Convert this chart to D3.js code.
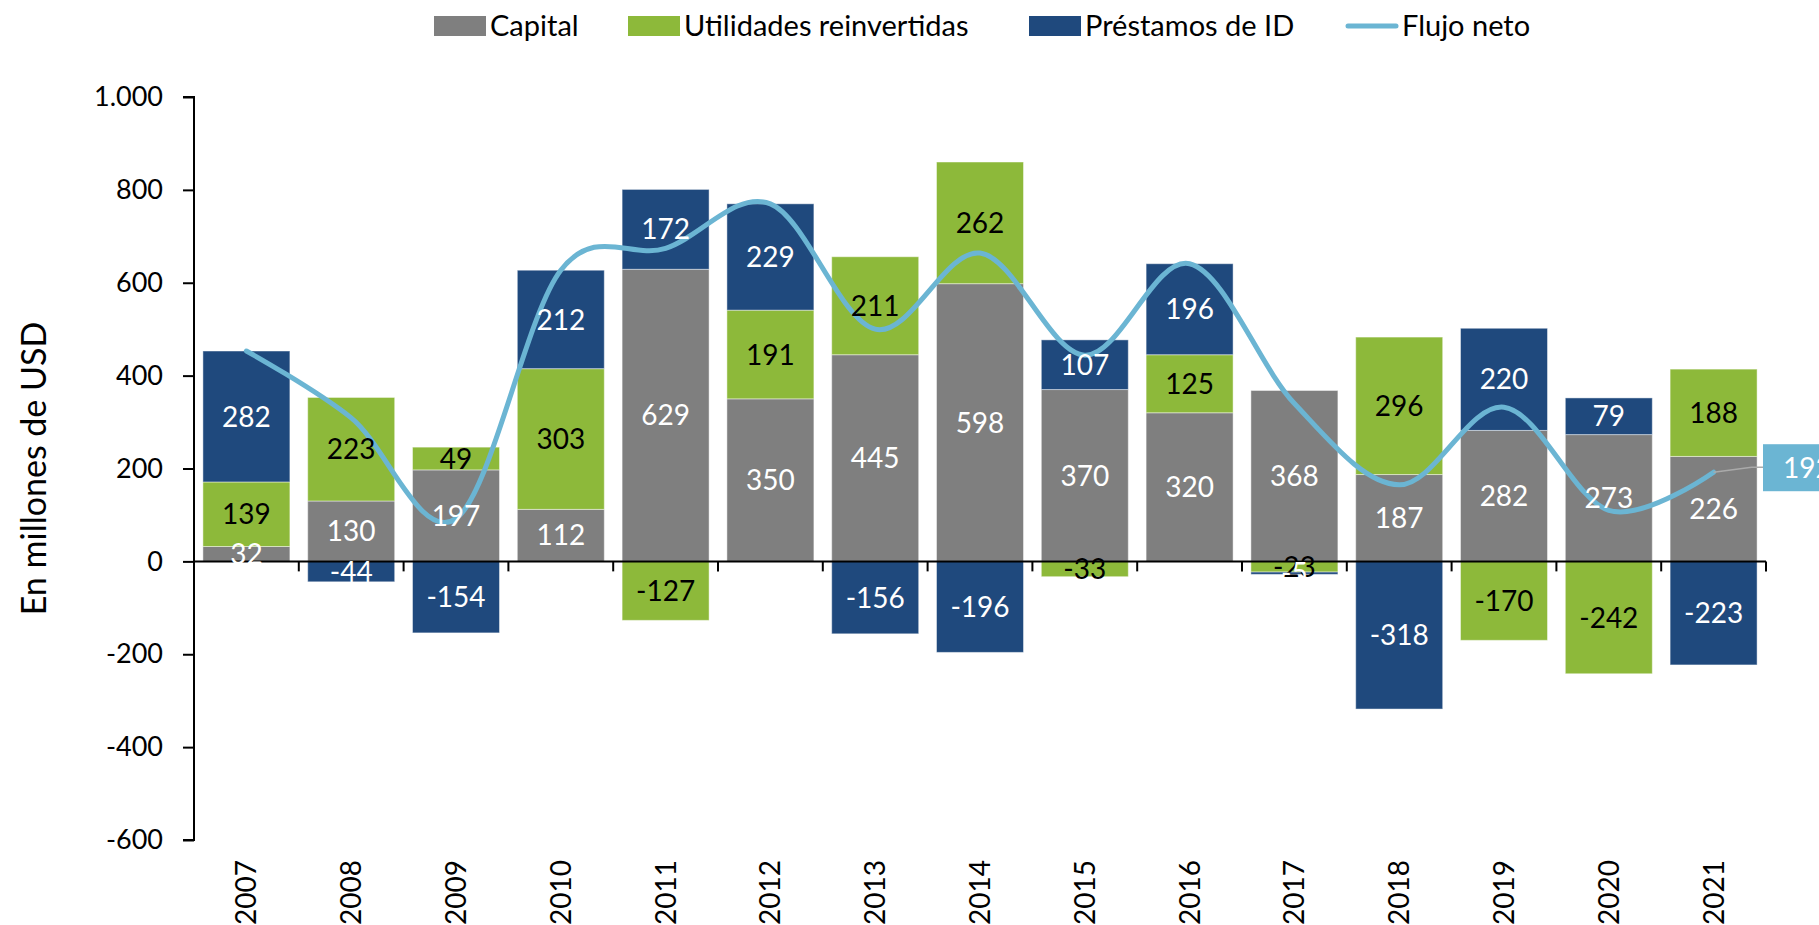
<!DOCTYPE html>
<html>
<head>
<meta charset="utf-8">
<script src="https://cdn.jsdelivr.net/npm/d3@7"></script>
<style>
  body { margin: 0; background: #fff; }
  svg { display: block; font-family: Lato, 'Open Sans', sans-serif; }
</style>
</head>
<body>
<svg id="chart" width="1819" height="925"></svg>
<script>
const years = ['2007','2008','2009','2010','2011','2012','2013','2014','2015','2016','2017','2018','2019','2020','2021'];
const capital = [32, 130, 197, 112, 629, 350, 445, 598, 370, 320, 368, 187, 282, 273, 226];
const utilidades = [139, 223, 49, 303, -127, 191, 211, 262, -33, 125, -23, 296, -170, -242, 188];
const prestamos = [282, -44, -154, 212, 172, 229, -156, -196, 107, 196, -5, -318, 220, 79, -223];
const flujoNeto = [453, 309, 92, 627, 674, 770, 500, 664, 444, 641, 340, 165, 332, 110, 192];
const yTicks = [-600, -400, -200, 0, 200, 400, 600, 800, 1000];

const series = [
  {key: 'capital', name: 'Capital', values: capital, color: '#7f7f7f', text: '#fff'},
  {key: 'utilidades', name: 'Utilidades reinvertidas', values: utilidades, color: '#8db93a', text: '#000'},
  {key: 'prestamos', name: 'Préstamos de ID', values: prestamos, color: '#1f497d', text: '#fff'}
];
const lineColor = '#6bb5d3';

const svg = d3.select('#chart');
const plotLeft = 194, plotRight = 1766, plotTop = 97, plotBottom = 840;

const x = d3.scaleBand().domain(years).range([plotLeft, plotRight]).paddingInner(0.17).paddingOuter(0.085);
const y = d3.scaleLinear().domain([-600, 1000]).range([plotBottom, plotTop]);
const fmt = d3.formatLocale({decimal: ',', thousands: '.', grouping: [3], currency: ['', ''], minus: '-'}).format(',d');

const rows = years.map((yr, i) => {
  const r = {year: yr};
  series.forEach(s => { r[s.key] = s.values[i]; });
  return r;
});
const stacked = d3.stack().keys(series.map(s => s.key)).offset(d3.stackOffsetDiverging)(rows);

// bars
stacked.forEach((layer, li) => {
  const s = series[li];
  svg.append('g').selectAll('rect').data(layer).join('rect')
    .attr('x', d => x(d.data.year))
    .attr('width', x.bandwidth())
    .attr('y', d => y(Math.max(d[0], d[1])))
    .attr('height', d => Math.abs(y(d[0]) - y(d[1])))
    .attr('fill', s.color)
    .attr('stroke', 'rgba(255,255,255,0.45)')
    .attr('stroke-width', 1);
});

// axes
const yAxis = svg.append('g').attr('transform', `translate(${plotLeft},0)`)
  .call(d3.axisLeft(y).tickValues(yTicks).tickSize(11).tickPadding(20).tickFormat(fmt));
yAxis.select('.domain').attr('stroke', '#000').attr('stroke-width', 2).attr('d', `M-11,${plotTop}H0V${plotBottom}H-11`);
yAxis.selectAll('.tick line').attr('stroke', '#000').attr('stroke-width', 2);
yAxis.selectAll('.tick text').attr('font-size', 27).attr('fill', '#000').attr('font-family', 'Lato, sans-serif');

const step = x.step();
const bounds = years.map(yr => x(yr) + x.bandwidth() / 2 - step / 2).concat([plotRight]);
const xAxis = svg.append('g');
xAxis.append('line').attr('x1', plotLeft).attr('x2', plotRight).attr('y1', y(0)).attr('y2', y(0))
  .attr('stroke', '#000').attr('stroke-width', 2);
xAxis.selectAll('line.tk').data(bounds).join('line').attr('class', 'tk')
  .attr('x1', d => d).attr('x2', d => d).attr('y1', y(0)).attr('y2', y(0) + 10)
  .attr('stroke', '#000').attr('stroke-width', 2);

svg.append('g').selectAll('text').data(years).join('text')
  .attr('transform', d => `translate(${x(d) + x.bandwidth() / 2 + 10},860) rotate(-90)`)
  .attr('text-anchor', 'end')
  .attr('font-size', 28)
  .attr('fill', '#000')
  .text(d => d);

// line
const line = d3.line()
  .x((d, i) => x(years[i]) + x.bandwidth() / 2)
  .y(d => y(d))
  .curve(d3.curveCardinal.tension(0));
svg.append('path').datum(flujoNeto)
  .attr('d', line)
  .attr('fill', 'none')
  .attr('stroke', lineColor)
  .attr('stroke-width', 5)
  .attr('stroke-linecap', 'round');

// bar labels
stacked.forEach((layer, li) => {
  const s = series[li];
  svg.append('g').selectAll('text').data(layer).join('text')
    .attr('x', d => x(d.data.year) + x.bandwidth() / 2)
    .attr('y', d => (y(d[0]) + y(d[1])) / 2)
    .attr('dy', '0.36em')
    .attr('text-anchor', 'middle')
    .attr('font-size', 28)
    .attr('fill', s.text)
    .text(d => d.data[s.key]);
});

// last net flow label
const lastI = years.length - 1;
const px = x(years[lastI]) + x.bandwidth() / 2, py = y(flujoNeto[lastI]);
const boxX = plotRight - 3, boxY = py - 28;
svg.append('path')
  .attr('d', `M${px},${py}L${px + 38},${py - 5}L${boxX},${py - 5}`)
  .attr('fill', 'none').attr('stroke', '#aaa').attr('stroke-width', 1.5);
svg.append('rect').attr('x', boxX).attr('y', boxY).attr('width', 90).attr('height', 47).attr('fill', lineColor);
svg.append('text').attr('x', boxX + 20).attr('y', boxY + 24).attr('dy', '0.36em')
  .attr('font-size', 28).attr('fill', '#fff').text(flujoNeto[lastI]);

// y title
svg.append('text')
  .attr('transform', `translate(46,${(plotTop + plotBottom) / 2}) rotate(-90)`)
  .attr('text-anchor', 'middle')
  .attr('font-size', 34)
  .attr('fill', '#000')
  .text('En millones de USD');

// legend
const legendItems = series.map(s => ({name: s.name, color: s.color, type: 'rect'}))
  .concat([{name: 'Flujo neto', color: lineColor, type: 'line'}]);
const legendX = [434, 628, 1029, 1346];
const lg = svg.append('g').selectAll('g').data(legendItems).join('g')
  .attr('transform', (d, i) => `translate(${legendX[i]},26)`);
lg.filter(d => d.type === 'rect').append('rect')
  .attr('x', 0).attr('y', -10).attr('width', 52).attr('height', 20).attr('fill', d => d.color);
lg.filter(d => d.type === 'line').append('line')
  .attr('x1', 2).attr('x2', 50).attr('y1', 0).attr('y2', 0)
  .attr('stroke', d => d.color).attr('stroke-width', 5).attr('stroke-linecap', 'round');
lg.append('text').attr('x', 56).attr('dy', '0.35em').attr('font-size', 29).attr('fill', '#000').text(d => d.name);
</script>
</body>
</html>
